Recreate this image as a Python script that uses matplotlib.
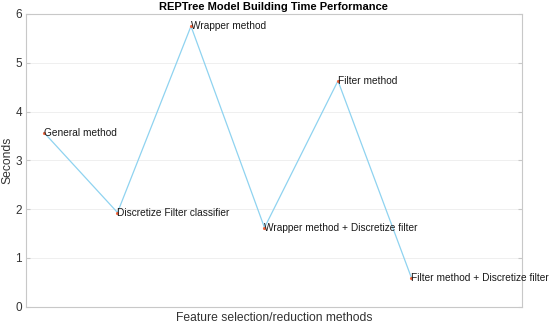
import numpy as np
import matplotlib.pyplot as plt

plt.rcParams['font.family'] = ['Liberation Sans', 'DejaVu Sans']

methods = ['General method', 'Discretize Filter classifier', 'Wrapper method',
           'Wrapper method + Discretize filter', 'Filter method',
           'Filter method + Discretize filter']
seconds = [3.57, 1.93, 5.75, 1.62, 4.63, 0.59]
y_ticks = [0, 1, 2, 3, 4, 5, 6]

x = np.arange(1, len(methods) + 1)

fig = plt.figure(figsize=(5.5, 3.27), dpi=100)
ax = fig.add_axes([26 / 550, 1 - 306.7 / 327, (521.7 - 26) / 550, (306.7 - 14) / 327])

ax.plot(x, seconds, '-', color='#8fd3f0', lw=0.9, zorder=2)
ax.plot(x, seconds, '.', color='#f0643c', ms=2.5, zorder=3)
for xi, yi, name in zip(x, seconds, methods):
    ax.text(xi, yi, name, fontsize=7.3, va='center', ha='left', color='#1a1a1a')

ax.set_xlim(0.755, 7.5)
ax.set_ylim(0, 6)
ax.set_yticks(y_ticks)
ax.set_xticks([])
ax.grid(axis='y', color='#ececec', lw=0.6)
ax.set_axisbelow(True)
for s in ax.spines.values():
    s.set_color('#c8c8c8')
    s.set_linewidth(0.8)
ax.tick_params(axis='y', direction='in', length=3, color='#c8c8c8',
               labelcolor='#333333', labelsize=8.5, right=True, pad=3)

ax.set_title('REPTree Model Building Time Performance', fontsize=8,
             fontweight='bold', pad=3)
ax.set_ylabel('Seconds', fontsize=8.7, color='#333333')
ax.yaxis.set_label_coords(-0.026, 0.5)
ax.set_xlabel('Feature selection/reduction methods', fontsize=8.7,
              color='#333333', labelpad=4)

fig.savefig('out.png', dpi=100)
